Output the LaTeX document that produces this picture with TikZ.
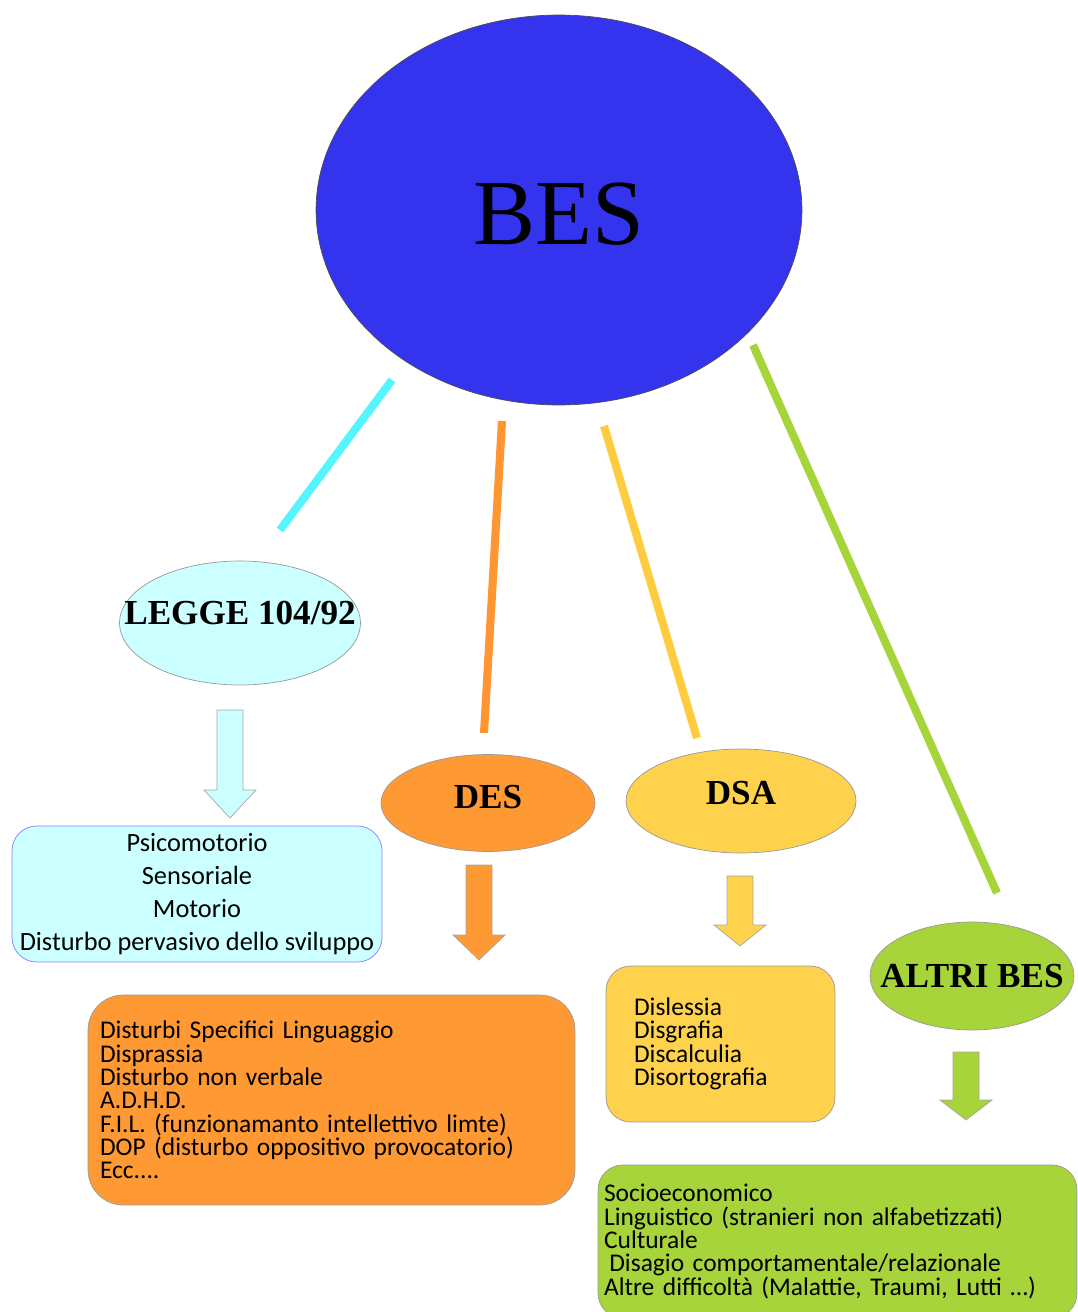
\documentclass[tikz,border=0pt]{standalone}
\usepackage{fontspec}
\setmainfont{Liberation Serif}
\newfontfamily\boxfont{Carlito}
\usetikzlibrary{shapes.geometric}

\definecolor{besblue}{RGB}{52,52,238}
\definecolor{leggecyan}{RGB}{204,255,255}
\definecolor{desorange}{RGB}{255,153,51}
\definecolor{dsayellow}{RGB}{255,210,77}
\definecolor{altrigreen}{RGB}{166,212,58}
\definecolor{linecyan}{RGB}{85,245,255}
\definecolor{lineorange}{RGB}{255,150,50}
\definecolor{lineyellow}{RGB}{255,204,64}
\definecolor{boxedge}{RGB}{128,128,255}

\tikzset{
  cat/.style={ellipse, draw=gray!80, inner sep=0pt},
  catlabel/.style={font=\bfseries\fontsize{20}{22}\selectfont},
  listbox/.style={rectangle, rounded corners=14pt, draw=gray!80, inner ysep=0pt,
    font=\boxfont\fontsize{14.5}{13.3}\selectfont, align=left},
  branch/.style={line width=4.6pt}
}

% block arrow: colour, x, top, neck, tip
\newcommand{\blockarrow}[5]{%
  \draw[fill=#1, draw=gray!70] (#2-13,#3) -- (#2+13,#3) -- (#2+13,#4) -- (#2+26,#4)
    -- (#2,#5) -- (#2-26,#4) -- (#2-13,#4) -- cycle;}

\begin{document}
\begin{tikzpicture}[x=0.02cm, y=-0.02cm]
    \useasboundingbox (0,0) rectangle (1078,1312);

    % BES
    \node[cat, fill=besblue, draw=gray!60!black, minimum width=9.72cm, minimum height=7.8cm,
      label={[font=\fontsize{53}{60}\selectfont, yshift=-0.08cm]center:BES}] (bes) at (559,210) {};

    % branches (they stop short of the ellipses)
    \coordinate (bes-legge) at (392,380); \coordinate (legge-top) at (280,530);
    \coordinate (bes-des) at (502,421);   \coordinate (des-top) at (484,733);
    \coordinate (bes-dsa) at (604,426);   \coordinate (dsa-top) at (697,738);
    \coordinate (bes-altri) at (753,345); \coordinate (altri-top) at (997,893);
    \draw[branch, linecyan] (bes-legge) -- (legge-top);
    \draw[branch, lineorange] (bes-des) -- (des-top);
    \draw[branch, lineyellow] (bes-dsa) -- (dsa-top);
    \draw[branch, altrigreen] (bes-altri) -- (altri-top);

    % LEGGE 104/92
    \node[cat, fill=leggecyan, minimum width=4.82cm, minimum height=2.48cm,
      label={[catlabel, yshift=0.2cm]center:LEGGE 104/92}] (legge) at (240,623) {};
    \blockarrow{leggecyan}{230}{710}{790}{818}
    \node[listbox, fill=leggecyan, draw=boxedge, align=center, minimum width=7.4cm, minimum height=2.72cm,
      font=\boxfont\fontsize{15}{18.8}\selectfont] (legge-list) at (197,894)
      {\rule{0pt}{10pt}Psicomotorio\\Sensoriale\\Motorio\\Disturbo pervasivo dello sviluppo};

    % DES
    \node[cat, fill=desorange, minimum width=4.28cm, minimum height=1.94cm,
      label={[catlabel, yshift=0.12cm]center:DES}] (des) at (488,803) {};
    \blockarrow{desorange}{479}{865}{935}{960}
    \node[listbox, fill=desorange, rounded corners=20pt, inner xsep=0.24cm, text width=9.26cm,
      minimum height=4.2cm] (des-list) at (331.5,1100)
      {Disturbi Specifici Linguaggio\\Disprassia\\Disturbo non verbale\\A.D.H.D.\\
       F.I.L. (funzionamanto intellettivo limte)\\DOP (disturbo oppositivo provocatorio)\\Ecc....};

    % DSA
    \node[cat, fill=dsayellow, minimum width=4.6cm, minimum height=2.08cm,
      label={[catlabel, yshift=0.16cm]center:DSA}] (dsa) at (741,801) {};
    \blockarrow{dsayellow}{740}{876}{925}{946}
    \node[listbox, fill=dsayellow, inner xsep=0.56cm, text width=3.46cm,
      minimum height=3.12cm] (dsa-list) at (720.5,1044)
      {Dislessia\\Disgrafia\\Discalculia\\Disortografia};

    % ALTRI BES
    \node[cat, fill=altrigreen, minimum width=4.08cm, minimum height=2.16cm,
      label={[catlabel]center:ALTRI BES}] (altri) at (972,976) {};
    \blockarrow{altrigreen}{966}{1052}{1100}{1120}
    \node[listbox, fill=altrigreen, inner xsep=0.12cm, text width=9.34cm,
      minimum height=3.06cm] (altri-list) at (837.5,1241.5)
      {Socioeconomico\\Linguistico (stranieri non alfabetizzati)\\Culturale\\
       \hspace{3pt}Disagio comportamentale/relazionale\\Altre difficoltà (Malattie, Traumi, Lutti \dots)};
\end{tikzpicture}
\end{document}
